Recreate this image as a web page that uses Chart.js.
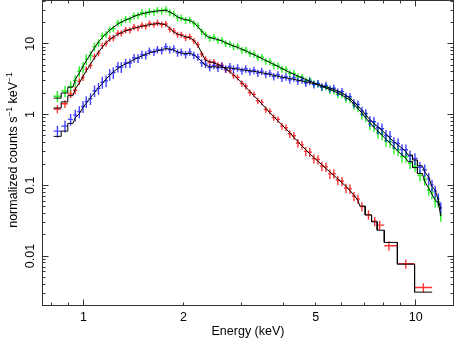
<!DOCTYPE html>
<html><head><meta charset="utf-8">
<script src="https://cdn.jsdelivr.net/npm/chart.js@4.4.1/dist/chart.umd.min.js"></script>
<style>html,body{margin:0;padding:0;background:#fff}#wrap{position:relative;width:455px;height:338px}</style>
</head><body><div id="wrap"><canvas id="c"></canvas></div>
<script>
// Bin centre energies (keV) shared by the green and blue spectra
const gridEnergy = [0.835,0.88,0.915,0.945,0.972,0.997,
 1.02,1.05,1.08,1.11,1.14,1.17,1.20,1.23,1.27,1.30,
 1.34,1.38,1.42,1.46,1.50,1.54,1.58,1.63,1.67,1.72,
 1.77,1.82,1.87,1.92,1.97,2.03,2.09,2.15,2.21,2.27,
 2.33,2.40,2.47,2.54,2.61,2.68,2.76,2.83,2.91,3.00,
 3.08,3.17,3.26,3.35,3.44,3.54,3.64,3.74,3.85,3.96,
 4.07,4.18,4.30,4.42,4.55,4.67,4.80,4.94,5.08,5.22,
 5.37,5.52,5.67,5.83,6.00,6.17,6.34,6.52,6.70,6.89,
 7.08,7.28,7.49,7.70,7.92,8.14,8.37,8.60,8.85,9.10,
 9.35,9.62,9.95,10.3,10.65,10.95,11.2,11.45,11.7,11.9];

const greenData = [1.82,2.15,2.50,3.05,4.10,4.70,
 6.09,6.84,9.11,10.3,12.9,13.7,15.9,16.4,19.8,20.1,
 22.4,22.2,24.9,25.2,27.8,26.5,28.6,28.1,30.0,29.3,
 30.7,27.7,26.7,23.4,23.4,21.5,21.8,19.4,18.0,14.9,
 13.5,12.0,12.4,11.2,11.3,10.1,9.97,9.15,9.28,8.14,
 8.18,7.31,7.17,6.41,6.48,5.70,5.62,4.98,4.89,4.40,
 4.36,3.82,3.83,3.43,3.37,3.01,3.09,2.75,2.73,2.43,
 2.48,2.22,2.20,1.94,1.96,1.69,1.66,1.36,1.26,1.01,
 0.934,0.738,0.692,0.559,0.529,0.427,0.414,0.336,0.315,0.255,
 0.255,0.207,0.187,0.138,0.120,0.0865,0.0783,0.0593,0.0592,0.0374];

const greenModel = [1.71,2.02,2.44,3.13,3.90,4.81,
 5.75,7.13,8.84,10.6,12.3,14.0,15.6,17.1,19.1,20.3,
 21.7,22.9,24.4,25.7,26.7,27.4,28.1,28.7,29.1,29.6,
 29.8,28.3,26.2,24.1,22.7,22.0,21.4,20.0,17.5,15.2,
 13.2,12.3,11.9,11.5,11.0,10.4,9.77,9.34,8.92,8.39,
 7.94,7.46,7.03,6.61,6.23,5.82,5.46,5.13,4.79,4.49,
 4.19,3.94,3.72,3.50,3.30,3.14,2.97,2.81,2.65,2.51,
 2.38,2.27,2.14,2.02,1.88,1.74,1.61,1.40,1.21,1.05,
 0.898,0.761,0.659,0.582,0.509,0.449,0.394,0.346,0.303,0.268,
 0.241,0.216,0.178,0.147,0.114,0.091,0.0746,0.0618,0.0569,0.0367];

const blueData = [0.584,0.687,0.855,0.984,1.10,1.30,
 1.53,1.68,2.17,2.35,2.87,3.01,3.70,3.94,4.74,4.69,
 5.37,5.36,6.30,6.25,7.03,6.91,7.91,7.62,8.31,8.03,
 9.09,8.27,8.56,7.45,7.69,7.07,7.71,6.89,6.53,5.41,
 5.18,4.62,4.97,4.57,4.86,4.43,4.79,4.40,4.58,4.15,
 4.44,4.04,4.24,3.85,4.11,3.70,3.85,3.46,3.65,3.28,
 3.43,3.10,3.31,2.97,3.10,2.79,2.97,2.66,2.76,2.47,
 2.59,2.31,2.36,2.08,2.12,1.81,1.79,1.45,1.39,1.12,
 1.03,0.813,0.791,0.650,0.630,0.507,0.492,0.403,0.390,0.321,
 0.318,0.260,0.239,0.180,0.165,0.125,0.101,0.083,0.0643,0.0483];

const blueModel = [0.492,0.584,0.751,0.901,1.03,1.26,
 1.45,1.73,2.05,2.39,2.76,3.17,3.60,4.02,4.52,4.84,
 5.21,5.58,6.00,6.38,6.76,7.13,7.46,7.78,7.99,8.28,
 8.58,8.44,8.15,7.68,7.39,7.29,7.34,7.03,6.34,5.58,
 4.98,4.76,4.73,4.71,4.67,4.61,4.56,4.49,4.40,4.32,
 4.23,4.16,4.08,4.01,3.91,3.81,3.70,3.60,3.48,3.38,
 3.30,3.23,3.15,3.06,2.98,2.91,2.83,2.75,2.66,2.57,
 2.47,2.38,2.27,2.16,2.02,1.86,1.72,1.51,1.33,1.15,
 0.990,0.847,0.746,0.670,0.600,0.528,0.464,0.415,0.371,0.334,
 0.300,0.268,0.228,0.189,0.156,0.129,0.0959,0.0855,0.0618,0.046];

// Red spectrum has its own binning (broad bins above 7 keV)
const redEnergy = [0.835,0.88,0.915,0.945,0.972,0.997,
 1.02,1.05,1.08,1.11,1.14,1.17,1.20,1.23,1.27,1.30,
 1.34,1.38,1.42,1.46,1.50,1.54,1.58,1.63,1.67,1.72,
 1.77,1.82,1.87,1.92,1.97,2.03,2.09,2.15,2.21,2.27,
 2.33,2.40,2.47,2.54,2.61,2.68,2.76,2.83,2.91,3.00,
 3.08,3.17,3.26,3.35,3.44,3.54,3.64,3.74,3.85,3.96,
 4.07,4.18,4.30,4.42,4.55,4.67,4.80,4.94,5.08,5.22,
 5.37,5.52,5.67,5.83,6.00,6.17,6.34,6.52,6.70,6.89,
 7.21,7.53,7.79,8.31,9.34,10.55];

const redData = [1.20,1.42,1.95,2.21,2.95,3.35,
 4.36,4.94,6.64,7.40,9.43,10.2,11.9,12.1,14.1,14.1,
 15.7,15.6,17.3,16.8,18.3,17.7,19.4,18.7,19.9,18.8,
 19.1,16.1,15.2,13.5,13.5,12.2,12.6,11.0,9.74,7.17,
 6.09,5.49,5.53,4.98,5.01,4.29,4.17,3.57,3.36,2.75,
 2.52,2.05,1.93,1.57,1.50,1.18,1.11,0.909,0.855,0.686,
 0.653,0.536,0.501,0.397,0.373,0.302,0.293,0.240,0.232,0.188,
 0.182,0.145,0.146,0.119,0.114,0.0917,0.0890,0.0700,0.0640,0.0500,
 0.0385,0.031,0.0274,0.0140,0.0078,0.0036];

const redModel = [1.24,1.51,1.85,2.30,2.81,3.46,
 4.15,5.15,6.38,7.63,8.98,10.4,11.5,12.5,13.6,14.4,
 15.3,16.0,16.6,17.2,17.7,18.2,18.7,19.1,19.3,19.2,
 18.6,16.6,14.8,13.8,13.2,12.6,12.2,11.2,9.46,7.39,
 5.86,5.60,5.37,5.13,4.82,4.42,4.05,3.64,3.23,2.83,
 2.45,2.12,1.85,1.62,1.43,1.23,1.06,0.937,0.814,0.715,
 0.628,0.553,0.478,0.414,0.359,0.318,0.279,0.247,0.219,0.196,
 0.173,0.155,0.138,0.123,0.109,0.0965,0.0850,0.0720,0.0620,0.0510,
 0.0380,0.0305,0.0232,0.0156,0.00768,0.00309];

const xTickLabels = [1, 2, 5, 10];
const yTickLabels = [0.01, 0.1, 1, 10];
const xTitle = 'Energy (keV)';
const yTitleParts = [['normalized counts s', false], ['\u22121', true], [' keV', false], ['\u22121', true]];

const X_MIN = 0.753, X_MAX = 13.0, Y_MIN = 0.002, Y_MAX = 41;
const FONT = '"Liberation Sans", Arial, Helvetica, sans-serif';

function edgesOf(E) {
  const n = E.length, inner = [];
  for (let i = 0; i < n - 1; i++) inner.push(Math.sqrt(E[i] * E[i + 1]));
  return [E[0] * E[0] / inner[0], ...inner, E[n - 1] * E[n - 1] / inner[n - 2]];
}
// model path: wide bins drawn as histogram steps, narrow bins joined through their centres
function modelPath(E, M) {
  const ed = edgesOf(E), pts = [];
  for (let i = 0; i < E.length; i++) {
    if (Math.log10(ed[i + 1] / ed[i]) > 0.0135) { pts.push({x: ed[i], y: M[i]}); pts.push({x: ed[i + 1], y: M[i]}); }
    else pts.push({x: E[i], y: M[i]});
  }
  return pts;
}

const seriesList = [
  {E: gridEnergy, D: greenData, color: 'rgba(0,240,0,0.85)', k: 0.07, lo: 0.11, hi: 0.18},
  {E: redEnergy, D: redData, color: 'rgba(255,0,0,0.8)', k: 0.03, lo: 0.10, hi: 0.15},
  {E: gridEnergy, D: blueData, color: 'rgba(0,0,255,0.75)', k: 0.07, lo: 0.12, hi: 0.19}
];

const crossPlugin = {
  id: 'crosses',
  beforeDatasetsDraw(chart) {
    const {ctx, chartArea: a, scales: {x, y}} = chart;
    ctx.save();
    ctx.beginPath(); ctx.rect(a.left, a.top, a.right - a.left, a.bottom - a.top); ctx.clip();
    for (const s of seriesList) {
      const ed = edgesOf(s.E);
      ctx.strokeStyle = s.color;
      ctx.beginPath();
      ctx.lineWidth = 1.4;
      for (let i = 0; i < s.E.length; i++) {
        const v = s.D[i], dE = ed[i + 1] - ed[i];
        let r = s.k / Math.sqrt(v * dE); r = Math.min(s.hi, Math.max(s.lo, r));
        const px = x.getPixelForValue(s.E[i]), py = y.getPixelForValue(v);
        ctx.moveTo(x.getPixelForValue(ed[i]), py); ctx.lineTo(x.getPixelForValue(ed[i + 1]), py);
        ctx.moveTo(px, y.getPixelForValue(v * (1 + r))); ctx.lineTo(px, y.getPixelForValue(v * (1 - r)));
      }
      ctx.stroke();
    }
    ctx.restore();
  }
};

const axisPlugin = {
  id: 'axes',
  afterDraw(chart) {
    const {ctx, chartArea: a, scales: {x, y}} = chart;
    ctx.save();
    ctx.strokeStyle = '#333'; ctx.lineWidth = 1;
    ctx.strokeRect(a.left, a.top, a.right - a.left, a.bottom - a.top);
    ctx.beginPath();
    for (const d of [0.1, 1, 10]) for (let m = 1; m <= 9; m++) {
      const v = m * d; if (v <= X_MIN || v >= X_MAX) continue;
      const len = m === 1 ? 6 : 3;
      const px = Math.floor(x.getPixelForValue(v)) + 0.5;
      ctx.moveTo(px, a.bottom); ctx.lineTo(px, a.bottom - len);
      ctx.moveTo(px, a.top); ctx.lineTo(px, a.top + len);
    }
    for (const d of [0.001, 0.01, 0.1, 1, 10]) for (let m = 1; m <= 9; m++) {
      const v = m * d; if (v <= Y_MIN * 1.0001 || v >= Y_MAX * 0.98) continue;
      const len = m === 1 ? 6 : 3;
      const py = Math.floor(y.getPixelForValue(v)) + 0.5;
      ctx.moveTo(a.left, py); ctx.lineTo(a.left + len, py);
      ctx.moveTo(a.right, py); ctx.lineTo(a.right - len, py);
    }
    ctx.stroke();

    ctx.fillStyle = '#000';
    ctx.font = '12.5px ' + FONT;
    ctx.textAlign = 'center'; ctx.textBaseline = 'alphabetic';
    for (const v of xTickLabels) ctx.fillText(String(v), x.getPixelForValue(v), 320.5);
    for (const v of yTickLabels) {
      ctx.save(); ctx.translate(33.5, y.getPixelForValue(v)); ctx.rotate(-Math.PI / 2);
      ctx.fillText(String(v), 0, 0); ctx.restore();
    }
    ctx.fillText(xTitle, (a.left + a.right) / 2, 334.5);

    const mainF = '12.5px ' + FONT, supF = '8.5px ' + FONT;
    let total = 0;
    for (const [t, sup] of yTitleParts) { ctx.font = sup ? supF : mainF; total += ctx.measureText(t).width; }
    ctx.save(); ctx.translate(17, 150); ctx.rotate(-Math.PI / 2);
    ctx.textAlign = 'left';
    let cx = -total / 2;
    for (const [t, sup] of yTitleParts) {
      ctx.font = sup ? supF : mainF;
      ctx.fillText(t, cx, sup ? -5 : 0);
      cx += ctx.measureText(t).width;
    }
    ctx.restore();
    ctx.restore();
  }
};

const modelStyle = {showLine: true, borderColor: '#000', borderWidth: 1, pointRadius: 0, fill: false, tension: 0};
new Chart(document.getElementById('c'), {
  type: 'scatter',
  data: {datasets: [
    Object.assign({label: 'green model', data: modelPath(gridEnergy, greenModel)}, modelStyle),
    Object.assign({label: 'red model', data: modelPath(redEnergy, redModel)}, modelStyle),
    Object.assign({label: 'blue model', data: modelPath(gridEnergy, blueModel)}, modelStyle)
  ]},
  options: {
    responsive: true, maintainAspectRatio: false, animation: false, events: [],
    layout: {padding: {left: 42.5, right: 1.5, top: 0.5, bottom: 32.5}},
    plugins: {legend: {display: false}, tooltip: {enabled: false}},
    scales: {
      x: {type: 'logarithmic', min: X_MIN, max: X_MAX, display: false},
      y: {type: 'logarithmic', min: Y_MIN, max: Y_MAX, display: false}
    }
  },
  plugins: [crossPlugin, axisPlugin]
});
</script>
</body></html>
